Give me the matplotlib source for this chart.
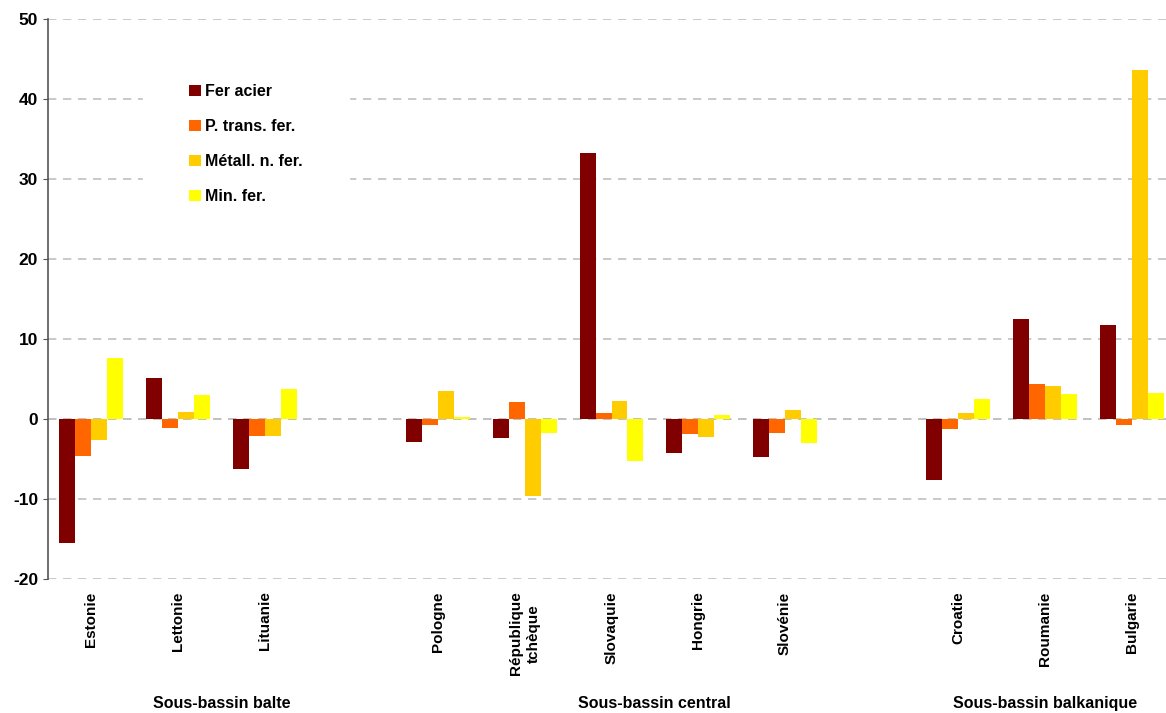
import numpy as np
import matplotlib
matplotlib.use("Agg")
import matplotlib.pyplot as plt

plt.rcParams['font.family'] = ['Liberation Sans', 'DejaVu Sans']
plt.rcParams['axes.unicode_minus'] = False

# data
countries = ['Estonie', 'Lettonie', 'Lituanie',
             'Pologne', 'République\ntchèque', 'Slovaquie', 'Hongrie', 'Slovénie',
             'Croatie', 'Roumanie', 'Bulgarie']
slots = [0, 1, 2, 4, 5, 6, 7, 8, 10, 11, 12]
series_names = ['Fer acier', 'P. trans. fer.', 'Métall. n. fer.', 'Min. fer.']
fer_acier = [-15.5, 5.1, -6.2, -2.9, -2.4, 33.2, -4.3, -4.8, -7.6, 12.5, 11.7]
p_trans = [-4.6, -1.1, -2.1, -0.8, 2.1, 0.7, -1.9, -1.7, -1.3, 4.4, -0.8]
metall = [-2.6, 0.9, -2.1, 3.5, -9.6, 2.2, -2.2, 1.1, 0.7, 4.1, 43.6]
min_fer = [7.6, 3.0, 3.7, 0.2, -1.7, -5.3, 0.5, -3.0, 2.5, 3.1, 3.2]
groups = ['Sous-bassin balte', 'Sous-bassin central', 'Sous-bassin balkanique']
group_pos = [1.5, 6.5, 11.0]
colors = ['#800000', '#FF6600', '#FFCC00', '#FFFF00']

fig = plt.figure(figsize=(11.66, 7.13), dpi=100)
ax = fig.add_axes([48/1166, 1 - 579/713, (1175-48)/1166, (579-19)/713])

x = np.array(slots, dtype=float)
w = 0.184
all_series = [fer_acier, p_trans, metall, min_fer]
for i, (vals, name, c) in enumerate(zip(all_series, series_names, colors)):
    ax.bar(x + (i - 1.5) * w, vals, width=w, color=c, label=name, zorder=3)

ax.set_xlim(-0.5, 12.5)
ax.set_ylim(-20, 50)
ax.set_yticks(range(-20, 51, 10))
ax.yaxis.grid(True, color='#c0c0c0', linewidth=1.2, linestyle=(0, (5, 4)), zorder=1)
ax.axhline(0, color='#c0c0c0', linewidth=1.2, linestyle=(0, (5, 4)), zorder=2)

for s in ['top', 'right', 'bottom']:
    ax.spines[s].set_visible(False)
ax.spines['left'].set_color('#555555')
ax.spines['left'].set_linewidth(1.2)
ax.tick_params(axis='y', length=3.6, color='#555555', labelsize=12.5, pad=3.6)
for lab in ax.get_yticklabels():
    lab.set_fontweight('bold')

ax.set_xticks(x)
ax.set_xticklabels(countries, rotation=90, fontsize=11, fontweight='bold',
                   va='top', ha='center', linespacing=1.35, multialignment='center')
ax.tick_params(axis='x', length=0, pad=9)

for g, p in zip(groups, group_pos):
    ax.text(p, -35.6, g, ha='center', va='center', fontsize=11.5, fontweight='bold')

leg = ax.legend(loc='upper left', bbox_to_anchor=(0.0843, 0.967), frameon=True,
                prop={'size': 11.5, 'weight': 'bold'}, handlelength=0.7,
                handleheight=0.7, handletextpad=0.3, labelspacing=1.26,
                borderpad=2.9, borderaxespad=0)
leg.get_frame().set_edgecolor('white')
leg.get_frame().set_facecolor('white')
leg.get_frame().set_alpha(1)
leg.set_zorder(5)

fig.savefig('out.png', dpi=100)
